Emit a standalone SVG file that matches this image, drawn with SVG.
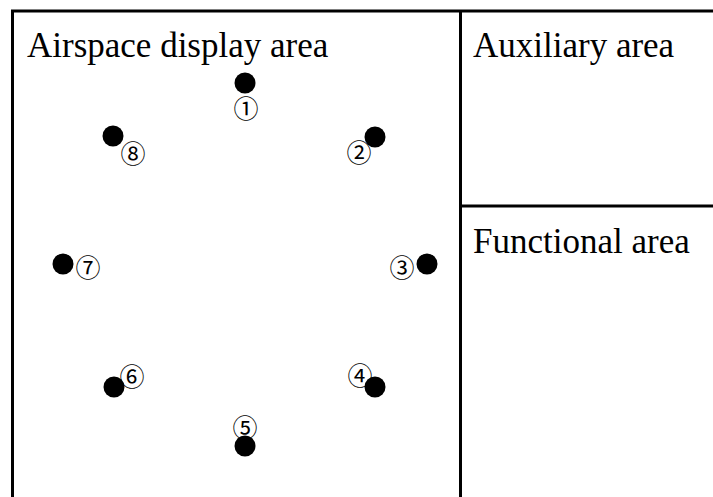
<svg xmlns="http://www.w3.org/2000/svg" width="713" height="497" viewBox="0 0 713 497">
<style>
.ln{stroke:#000;stroke-width:3;fill:none}
.t{font-family:"Liberation Serif","Times New Roman",serif;font-size:35px;fill:#000}
.n{font-family:"Noto Sans CJK JP","DejaVu Sans",sans-serif;font-size:25px;fill:#000;text-anchor:middle;dominant-baseline:central}
.d{fill:#000}
</style>
<rect width="713" height="497" fill="#fff"/>
<g id="frame">
<path class="ln" d="M12.5 497 V11 H713 M460.5 11 V497 M460.5 206 H713"/>
</g>
<g id="areas">
<text class="t" x="27" y="57">Airspace display area</text>
<text class="t" x="473" y="57">Auxiliary area</text>
<text class="t" x="473" y="253">Functional area</text>
</g>
<g id="p1"><circle class="d" cx="245" cy="83" r="10.5"/><text class="n" x="246" y="107">①</text></g>
<g id="p2"><circle class="d" cx="375" cy="137" r="10.5"/><text class="n" x="359" y="151">②</text></g>
<g id="p3"><circle class="d" cx="427" cy="264" r="10.5"/><text class="n" x="402" y="265.5">③</text></g>
<g id="p4"><circle class="d" cx="375" cy="387" r="10.5"/><text class="n" x="360" y="374">④</text></g>
<g id="p5"><circle class="d" cx="245" cy="446" r="10.5"/><text class="n" x="245" y="426">⑤</text></g>
<g id="p6"><circle class="d" cx="114" cy="387" r="10.5"/><text class="n" x="132" y="375">⑥</text></g>
<g id="p7"><circle class="d" cx="63" cy="264" r="10.5"/><text class="n" x="88" y="265.5">⑦</text></g>
<g id="p8"><circle class="d" cx="113" cy="136" r="10.5"/><text class="n" x="133" y="152">⑧</text></g>
<g id="connectors"></g>
</svg>
